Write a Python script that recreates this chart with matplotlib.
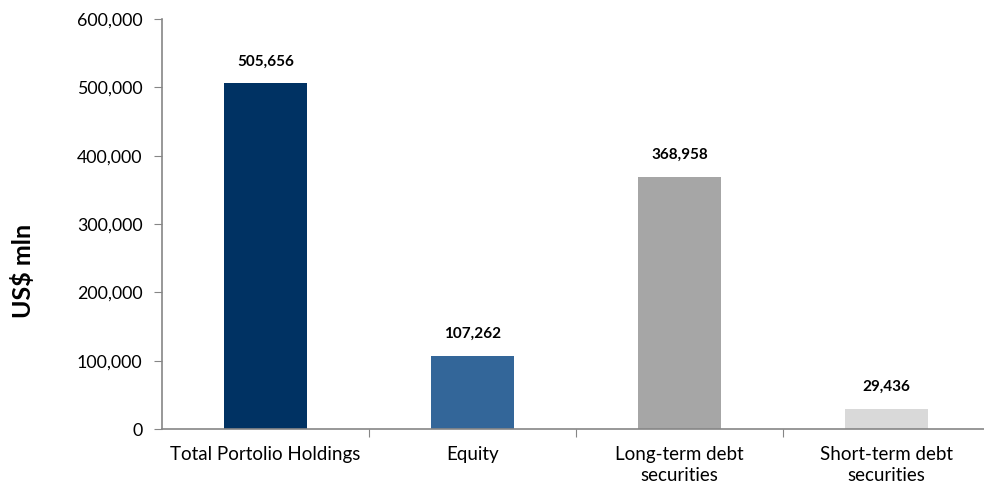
import matplotlib
matplotlib.use('Agg')
import matplotlib.pyplot as plt
from matplotlib.ticker import FuncFormatter

categories = ['Total Portolio Holdings', 'Equity', 'Long-term debt\nsecurities', 'Short-term debt\nsecurities']
values = [505656, 107262, 368958, 29436]
colors = ['#003263', '#336699', '#a6a6a6', '#d9d9d9']
yticks = [0, 100000, 200000, 300000, 400000, 500000, 600000]

plt.rcParams['font.family'] = ['Lato', 'DejaVu Sans']

fig = plt.figure(figsize=(9.84, 4.92), dpi=100)
ax = fig.add_axes([162 / 984, 63 / 492, 828 / 984, 410 / 492])

x = list(range(len(categories)))
ax.bar(x, values, width=0.4, color=colors, zorder=2)

# подписи значений над столбцами
for xi, v in zip(x, values):
    ax.text(xi, v + 22000, '{:,}'.format(v), ha='center', va='bottom',
            fontsize=11, fontweight='bold', color='black')

ax.set_xlim(-0.5, 3.5)
ax.set_ylim(0, 600000)
ax.set_yticks(yticks)
ax.yaxis.set_major_formatter(FuncFormatter(lambda v, p: '{:,}'.format(int(v))))

# деления по оси X между категориями, подписи по центрам
ax.set_xticks([0.5, 1.5, 2.5])
ax.set_xticklabels([])
ax.set_xticks(x, minor=True)
ax.set_xticklabels(categories, minor=True, fontsize=13.5, linespacing=1.3)
ax.tick_params(axis='x', which='minor', length=0, pad=12)
ax.tick_params(axis='x', which='major', length=6, color='#868686', direction='out')
ax.tick_params(axis='y', length=6, color='#868686', labelsize=12.8, pad=8)

for s in ['top', 'right']:
    ax.spines[s].set_visible(False)
for s in ['left', 'bottom']:
    ax.spines[s].set_color('#868686')
    ax.spines[s].set_linewidth(1.2)

fig.text(23 / 984, 1 - 271 / 492, 'US$ mln', rotation=90, ha='center', va='center',
         fontsize=18, fontweight='bold')

fig.savefig('out.png', dpi=100)
